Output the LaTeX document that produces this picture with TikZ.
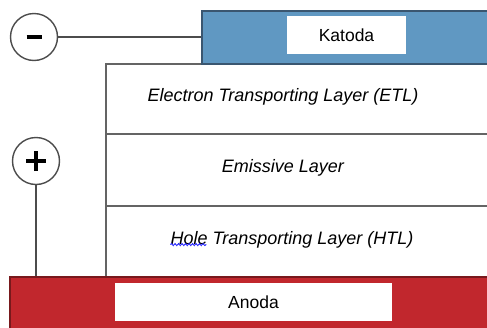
\documentclass[tikz,border=0pt]{standalone}
\usepackage{fontspec}
\setmainfont{Liberation Sans}
\usetikzlibrary{decorations.pathmorphing}
\definecolor{cathodeblue}{RGB}{96,152,194}
\definecolor{cathodeedge}{RGB}{58,86,112}
\definecolor{anodered}{RGB}{193,39,45}
\definecolor{anodeedge}{RGB}{120,25,28}
\definecolor{layeredge}{RGB}{100,100,100}
\tikzset{
  layerbox/.style={draw=layeredge, line width=1.6pt, fill=white, minimum width=400pt, anchor=north west, inner sep=0pt},
  electrode/.style={line width=1.6pt, anchor=north west, inner sep=0pt},
  tagbox/.style={fill=white, inner sep=0pt, minimum height=38pt, font=\fontsize{17.5}{20}\selectfont},
  layertext/.style={font=\fontsize{18}{21}\selectfont\itshape, inner sep=0pt},
  terminal/.style={circle, draw=black!70, line width=1.4pt, fill=white, minimum size=47pt, inner sep=0pt},
  wire/.style={draw=black!70, line width=1.4pt},
  sign/.style={line width=4.3pt, line cap=butt}
}
\begin{document}
\begin{tikzpicture}[x=1pt, y=-1pt]
  \useasboundingbox (0,0) rectangle (487,327);
  \clip (0,0) rectangle (487,327);

  % organic layers
  \node[layerbox, minimum height=70pt] (etl) at (105,63) {};
  \node[layerbox, minimum height=72pt] (eml) at (105,133) {};
  \node[layerbox, minimum height=71pt] (htl) at (105,205) {};

  % electrodes
  \node[electrode, draw=cathodeedge, fill=cathodeblue, minimum width=300pt, minimum height=53pt] (katoda) at (201,10) {};
  \node[electrode, draw=anodeedge, fill=anodered, minimum width=500pt, minimum height=60pt] (anoda) at (9,276) {};

  % electrode labels
  \node[tagbox, minimum width=119pt] (katodatag) at (346.5,35) {Katoda};
  \node[tagbox, minimum width=277pt] (anodatag) at (253.5,302) {Anoda};

  % layer names
  \node[layertext] (etltext) at (283,97) {Electron Transporting Layer (ETL)};
  \node[layertext] (emltext) at (283,168) {Emissive Layer};
  \node[layertext] (htltext) at (292,240) {Hole Transporting Layer (HTL)};
  \draw[blue!85, line width=0.9pt, decoration={snake, amplitude=1pt, segment length=3.5pt}, decorate]
    ([xshift=0pt, yshift=4pt]htltext.south west) -- ++(36,0);

  % terminals and wires
  \node[terminal] (minus) at (34,37) {};
  \node[terminal] (plus) at (36,161) {};
  \draw[wire] (minus.east) -- (minus.east -| katoda.west);
  \draw[wire] (plus.south) -- (plus.south |- anoda.north);
  \draw[sign] ([xshift=-7.5pt]minus.center) -- ([xshift=7.5pt]minus.center);
  \draw[sign] ([xshift=-10pt]plus.center) -- ([xshift=10pt]plus.center);
  \draw[sign] ([yshift=-10pt]plus.center) -- ([yshift=10pt]plus.center);
\end{tikzpicture}
\end{document}
